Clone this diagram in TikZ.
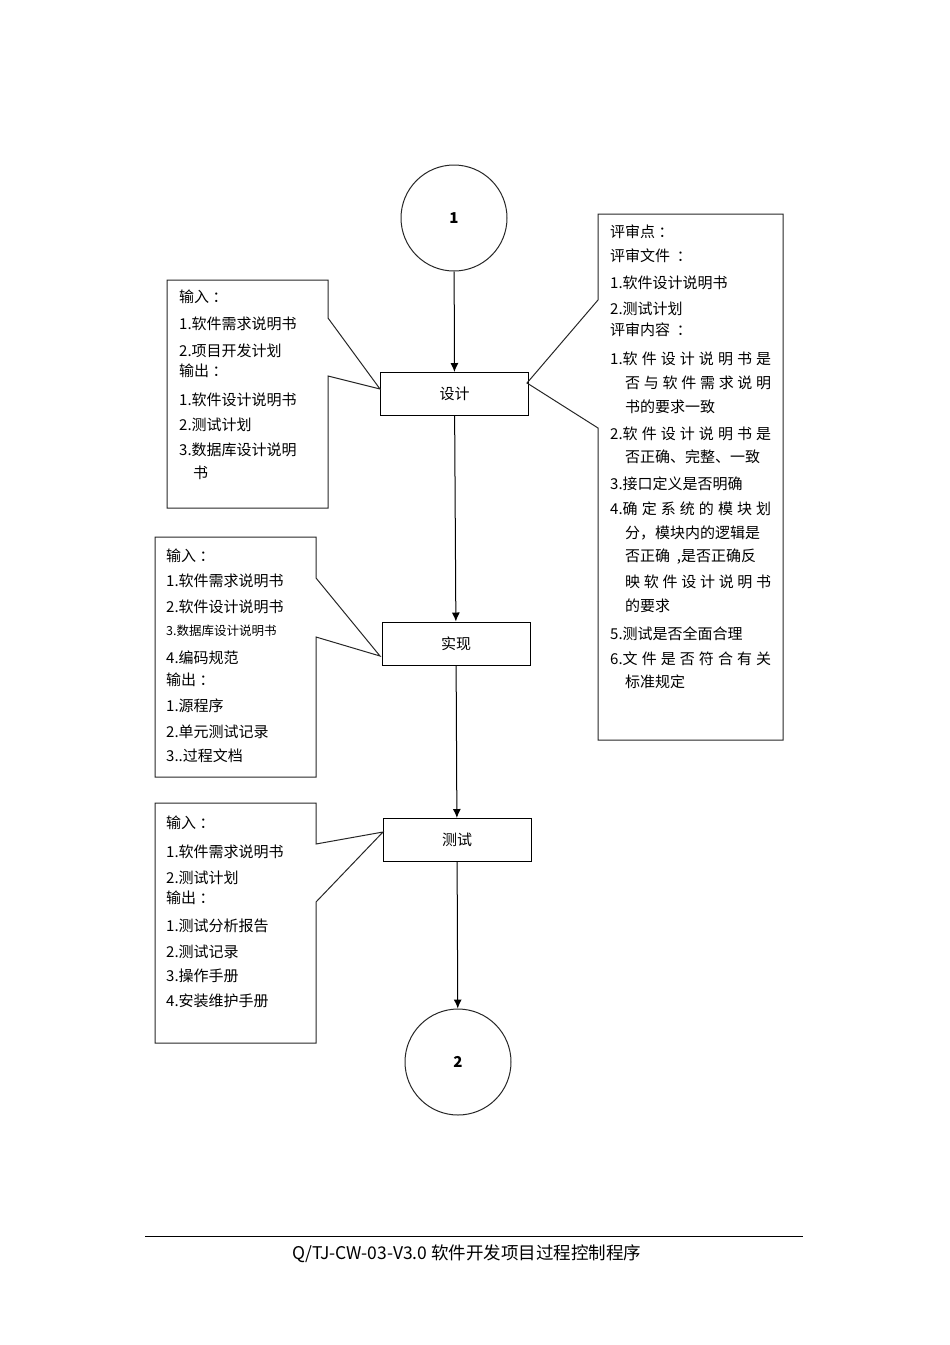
\documentclass[tikz,border=0pt]{standalone}
\usepackage{fontspec}
\setmainfont{Noto Sans CJK SC}
\usepackage{tikz}
\usetikzlibrary{arrows.meta}
\tikzstyle{stepbox}=[rectangle,draw=black,line width=1pt,
                     minimum width=148pt,minimum height=43pt,inner sep=0pt,
                     font=\fontsize{15}{18}\selectfont]
\tikzstyle{terminal}=[circle,draw=black!85,line width=1pt,
                      minimum size=106pt,inner sep=0pt,
                      font=\fontsize{15}{18}\selectfont\bfseries]
\tikzstyle{callout}=[draw=black!85,line width=1pt]
\tikzstyle{note}=[anchor=west,inner sep=0pt,font=\fontsize{15}{18}\selectfont]
\tikzstyle{flow}=[-{Latex[length=9pt,width=8pt]},line width=1pt]
\newcommand{\fillline}[2]{\makebox[#1][s]{#2}}

\begin{document}
\begin{tikzpicture}[x=1pt,y=-1pt]
    \useasboundingbox (0,0) rectangle (950,1345);
    % flow
    \node (t1) at (454,218) [terminal]{1};
    \node (design) at (454.5,394) [stepbox]{设计};
    \node (impl) at (456,643.5) [stepbox]{实现};
    \node (test) at (457,840) [stepbox]{测试};
    \node (t2) at (458,1062) [terminal]{2};
    \draw[flow] (t1) -- (design);
    \draw[flow] (design) -- (impl);
    \draw[flow] (impl) -- (test);
    \draw[flow] (test) -- (t2);
    % callout tips
    \coordinate (tipA) at (380,389);
    \coordinate (tipB) at (527,383);
    \coordinate (tipC) at (380,656);
    \coordinate (tipD) at (383,832);
    % callouts
    \draw[callout] (167,280) -- (328,280) -- (328,318) -- (tipA)
        -- (328,376) -- (328,508) -- (167,508) -- cycle;
    \draw[callout] (598,214) -- (783,214) -- (783,740) -- (598,740)
        -- (598,428) -- (tipB) -- (598,300) -- cycle;
    \draw[callout] (155,537) -- (316,537) -- (316,578) -- (tipC)
        -- (316,637) -- (316,777) -- (155,777) -- cycle;
    \draw[callout] (155,803) -- (316,803) -- (316,844) -- (tipD)
        -- (316,902) -- (316,1043) -- (155,1043) -- cycle;
    % design inputs / outputs
    \foreach \x/\y/\txt in {179/297/{输入 ：},179/324/{1.软件需求说明书},
        179/351/{2.项目开发计划},179/371/{输出 ：},
        179/400/{1.软件设计说明书},179/425/{2.测试计划},
        179/450/{3.数据库设计说明},193/473/{书}}
        \node[note] at (\x,\y) {\txt};
    % review points
    \foreach \x/\y/\txt in {610/232/{评审点 ：},610/256/{评审文件 \ ：},
        610/283/{1.软件设计说明书},610/309/{2.测试计划},
        610/330/{评审内容 \ ：},
        610/359/{\fillline{161pt}{1.软 件 设 计 说 明 书 是}},
        625/383/{\fillline{146pt}{否 与 软 件 需 求 说 明}},
        625/407/{书的要求一致},
        610/434/{\fillline{161pt}{2.软 件 设 计 说 明 书 是}},
        625/457/{否正确、完整、一致},610/484/{3.接口定义是否明确},
        610/509/{\fillline{161pt}{4.确 定 系 统 的 模 块 划}},
        625/533/{分，模块内的逻辑是},625/557/{否正确 \ ,是否正确反},
        625/582/{\fillline{146pt}{映 软 件 设 计 说 明 书}},
        625/606/{的要求},610/634/{5.测试是否全面合理},
        610/659/{\fillline{161pt}{6.文 件 是 否 符 合 有 关}},
        625/682/{标准规定}}
        \node[note] at (\x,\y) {\txt};
    % implementation inputs / outputs
    \foreach \y/\txt in {556/{输入 ：},581/{1.软件需求说明书},
        607/{2.软件设计说明书},
        631/{\fontsize{12.5}{14}\selectfont 3.数据库设计说明书},
        658/{4.编码规范},680/{输出 ：},706/{1.源程序},
        732/{2.单元测试记录},756/{3..过程文档}}
        \node[note] at (166,\y) {\txt};
    % test inputs / outputs
    \foreach \y/\txt in {823/{输入 ：},852/{1.软件需求说明书},
        878/{2.测试计划},898/{输出 ：},926/{1.测试分析报告},
        952/{2.测试记录},976/{3.操作手册},1001/{4.安装维护手册}}
        \node[note] at (166,\y) {\txt};
    % footer
    \coordinate (rl) at (145,1236);
    \coordinate (rr) at (803,1236);
    \draw[line width=0.8pt] (rl) -- (rr);
    \node (footer) at (467,1254) [font=\fontsize{17.5}{20}\selectfont]
        {Q/TJ-CW-03-V3.0 软件开发项目过程控制程序};
\end{tikzpicture}
\end{document}
